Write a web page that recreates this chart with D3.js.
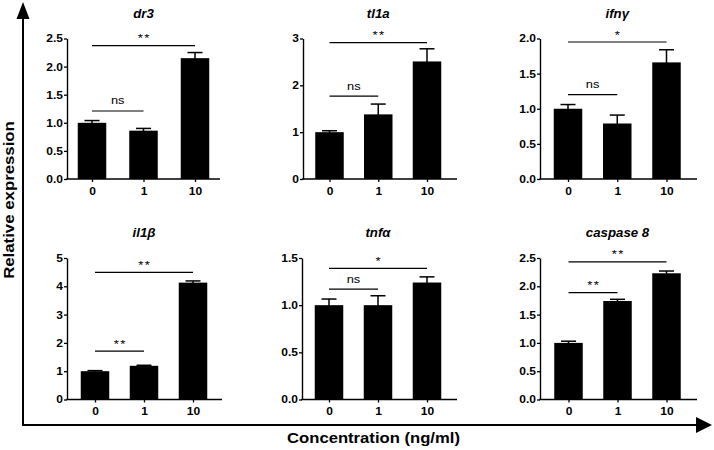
<!DOCTYPE html>
<html><head><meta charset="utf-8">
<script src="https://cdn.jsdelivr.net/npm/d3@7"></script>
<style>body{margin:0;background:#fff} svg{display:block}</style>
</head><body><svg id="c" width="714" height="450"></svg>
<script>
// ---------- data ----------
const categories = ["0", "1", "10"];
const genes = ["dr3", "tl1a", "ifnγ", "il1β", "tnfα", "caspase 8"];
const meanValues = [
  [1.00, 0.86, 2.15],
  [1.00, 1.38, 2.51],
  [1.00, 0.79, 1.66],
  [1.00, 1.19, 4.13],
  [1.00, 1.00, 1.24],
  [1.00, 1.74, 2.23]
];
const errorValues = [
  [0.04, 0.04, 0.10],
  [0.03, 0.22, 0.27],
  [0.06, 0.12, 0.18],
  [0.02, 0.02, 0.06],
  [0.065, 0.10, 0.06],
  [0.03, 0.03, 0.04]
];
const yTickValues = [
  [0, 0.5, 1, 1.5, 2, 2.5],
  [0, 1, 2, 3],
  [0, 0.5, 1, 1.5, 2],
  [0, 1, 2, 3, 4, 5],
  [0, 0.5, 1, 1.5],
  [0, 0.5, 1, 1.5, 2, 2.5]
];
const yTickFormats = [".1f", "d", ".1f", "d", ".1f", ".1f"];
// significance comparisons: [fromIndex, toIndex]
const sigPairs = [[0, 1], [0, 2]];
const sigLabels = [
  ["ns", "**"], ["ns", "**"], ["ns", "*"],
  ["**", "**"], ["ns", "*"], ["**", "**"]
];
const sigHeights = [
  [1.21, 2.375], [1.77, 2.91], [1.20, 1.95],
  [1.71, 4.49], [1.17, 1.39], [1.89, 2.43]
];
const xAxisTitle = "Concentration (ng/ml)";
const yAxisTitle = "Relative expression";

// ---------- layout ----------
const panels = [
  {x0: 67,  c0: 92,    c2: 195,   end: 220, yb: 179,   yt: 38.5},
  {x0: 303, c0: 329.5, c2: 427,   end: 457, yb: 179,   yt: 38.5},
  {x0: 540, c0: 568,   c2: 666.5, end: 697, yb: 179,   yt: 38.5},
  {x0: 67,  c0: 95,    c2: 193,   end: 222, yb: 399.5, yt: 258},
  {x0: 302, c0: 329,   c2: 427,   end: 457, yb: 399.5, yt: 258},
  {x0: 540, c0: 568.5, c2: 666.5, end: 697, yb: 399.5, yt: 258}
];
const FONT = "'Liberation Sans', Arial, Helvetica, sans-serif";
const SX = 1.2;
const TICKSX = 1.2;
const barW = 28.5;
const capHalf = 7.5;

const svg = d3.select("#c");

function addText(g, x, y, str, o) {
  const t = g.append("text")
    .attr("transform", `translate(${x},${y}) rotate(${o.rot || 0}) scale(${o.sx || SX},1)`)
    .attr("text-anchor", o.anchor || "middle")
    .attr("font-family", FONT)
    .attr("font-size", o.size)
    .attr("font-weight", o.weight || "normal")
    .attr("font-style", o.style || "normal")
    .attr("fill", "#000")
    .text(str);
  if (o.ls) t.attr("letter-spacing", o.ls);
  return t;
}

genes.forEach((gene, i) => {
  const L = panels[i];
  const g = svg.append("g");
  const x = d3.scalePoint().domain(categories).range([L.c0, L.c2]);
  const yMax = d3.max(yTickValues[i]);
  const y = d3.scaleLinear().domain([0, yMax]).range([L.yb, L.yt]);

  // bars
  g.selectAll("rect.bar").data(categories).join("rect")
    .attr("x", d => x(d) - barW / 2)
    .attr("width", barW)
    .attr("y", (d, j) => y(meanValues[i][j]))
    .attr("height", (d, j) => y(0) - y(meanValues[i][j]))
    .attr("fill", "#000");

  // error bars (upper only)
  categories.forEach((c, j) => {
    const top = y(meanValues[i][j] + errorValues[i][j]);
    const base = y(meanValues[i][j]);
    g.append("line").attr("x1", x(c)).attr("x2", x(c)).attr("y1", base + 1).attr("y2", top)
      .attr("stroke", "#000").attr("stroke-width", 1.5);
    g.append("line").attr("x1", x(c) - capHalf).attr("x2", x(c) + capHalf).attr("y1", top).attr("y2", top)
      .attr("stroke", "#000").attr("stroke-width", 1.5);
  });

  // y axis
  const fmt = d3.format(yTickFormats[i]);
  const ya = g.append("g").attr("transform", `translate(${L.x0},0)`)
    .call(d3.axisLeft(y).tickValues(yTickValues[i]).tickFormat(fmt).tickSize(3).tickSizeOuter(0).tickPadding(1));
  ya.select(".domain").attr("stroke-width", 1.4);
  ya.selectAll(".tick line").attr("stroke-width", 1.3);
  ya.selectAll(".tick text")
    .attr("font-family", FONT).attr("font-size", 10).attr("font-weight", "bold").attr("fill", "#000")
    .attr("x", null).attr("dy", "0.34em")
    .attr("transform", `translate(-4,0) scale(${TICKSX},1)`);

  // x axis
  const xa = g.append("g").attr("transform", `translate(0,${L.yb})`)
    .call(d3.axisBottom(x).tickSize(3).tickSizeOuter(0).tickPadding(2));
  xa.select(".domain").remove();
  xa.selectAll(".tick line").attr("stroke-width", 1.3);
  xa.selectAll(".tick text")
    .attr("font-family", FONT).attr("font-size", 10).attr("font-weight", "bold").attr("fill", "#000")
    .attr("y", null).attr("dy", null)
    .attr("transform", `translate(0,15.5) scale(${TICKSX},1)`);
  g.append("line").attr("x1", L.x0 - 0.7).attr("x2", L.end).attr("y1", L.yb).attr("y2", L.yb)
    .attr("stroke", "#000").attr("stroke-width", 1.4);

  // title
  addText(g, x(categories[1]), L.yt - 21, gene, {size: 12.5, weight: "bold", style: "italic", sx: 1.06});

  // significance brackets
  sigPairs.forEach((p, k) => {
    const yy = y(sigHeights[i][k]);
    const xa1 = x(categories[p[0]]), xa2 = x(categories[p[1]]);
    g.append("line").attr("x1", xa1).attr("x2", xa2).attr("y1", yy).attr("y2", yy)
      .attr("stroke", "#000").attr("stroke-width", 1.2);
    const lab = sigLabels[i][k];
    if (lab === "ns") {
      addText(g, (xa1 + xa2) / 2, yy - 6.5, lab, {size: 11.5, sx: 1.12});
    } else {
      addText(g, (xa1 + xa2) / 2 + 0.7, yy - 3.5, lab, {size: 11, sx: 1.2, ls: 1.2});
    }
  });
});

// outer arrows
svg.append("line").attr("x1", 23).attr("x2", 23).attr("y1", 16).attr("y2", 426)
  .attr("stroke", "#000").attr("stroke-width", 2);
svg.append("path").attr("d", "M23,2 L16.5,19 L29.5,19 Z").attr("fill", "#000");
svg.append("line").attr("x1", 22).attr("x2", 698).attr("y1", 425).attr("y2", 425)
  .attr("stroke", "#000").attr("stroke-width", 2);
svg.append("path").attr("d", "M712,425 L696,417 L696,433 Z").attr("fill", "#000");

// axis titles
addText(svg, 13.5, 200, yAxisTitle, {size: 14, weight: "bold", rot: -90, sx: 1.2});
addText(svg, 373.5, 443.3, xAxisTitle, {size: 14, weight: "bold", sx: 1.19});
</script></body></html>
